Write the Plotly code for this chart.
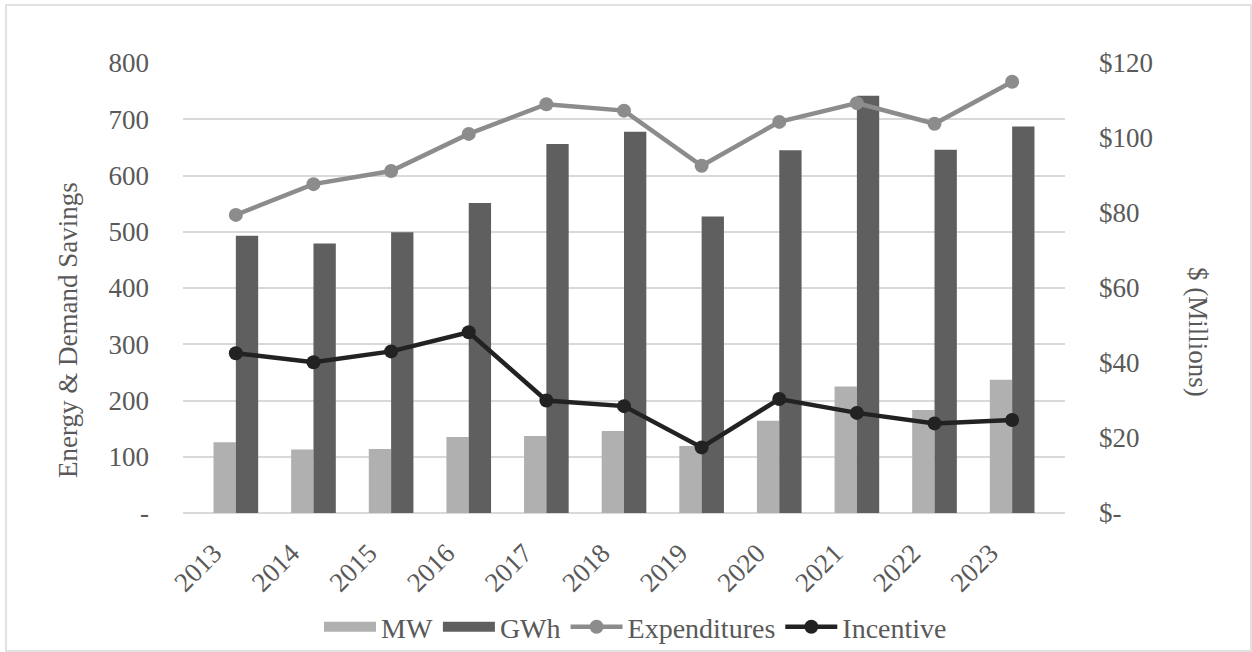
import plotly.graph_objects as go

years = ["2013", "2014", "2015", "2016", "2017", "2018", "2019", "2020", "2021", "2022", "2023"]
mw = [126, 113, 114, 135, 137, 146, 119, 164, 225, 183, 237]
gwh = [493, 479, 499, 551, 656, 678, 527, 645, 742, 646, 687]
expenditures = [79.5, 87.7, 91.2, 101.1, 109.0, 107.3, 92.6, 104.3, 109.3, 103.8, 115.0]
incentive = [42.6, 40.2, 43.1, 48.2, 30.0, 28.5, 17.5, 30.4, 26.7, 23.9, 24.8]

left_vals = [0, 100, 200, 300, 400, 500, 600, 700, 800]
left_text = ["-", "100", "200", "300", "400", "500", "600", "700", "800"]
right_vals = [0, 20, 40, 60, 80, 100, 120]
right_text = ["$-", "$20", "$40", "$60", "$80", "$100", "$120"]

FONT = "Liberation Serif"
TXT = "#595959"
FS = 27
W, H = 1252, 652
L, R, T, B = 183, 187, 63, 139
pw, ph = W - L - R, H - T - B

C_MW, C_GWH, C_EXP, C_INC = "#b0b0b0", "#5f5f5f", "#8c8c8c", "#222222"

fig = go.Figure()
fig.add_trace(go.Bar(x=years, y=mw, name="MW", showlegend=False,
                     marker=dict(color=C_MW, line=dict(width=0))))
fig.add_trace(go.Bar(x=years, y=gwh, name="GWh", showlegend=False,
                     marker=dict(color=C_GWH, line=dict(width=0))))
fig.add_trace(go.Scatter(x=years, y=expenditures, name="Expenditures", yaxis="y2", mode="lines+markers",
                         showlegend=False,
                         line=dict(color=C_EXP, width=4.5), marker=dict(size=14, color=C_EXP)))
fig.add_trace(go.Scatter(x=years, y=incentive, name="Incentive", yaxis="y2", mode="lines+markers",
                         showlegend=False,
                         line=dict(color=C_INC, width=4.5), marker=dict(size=14, color=C_INC)))

# legend-only entries (wide swatches like the original)
fig.add_trace(go.Scatter(x=[None], y=[None], name="MW", mode="lines", line=dict(color=C_MW, width=14)))
fig.add_trace(go.Scatter(x=[None], y=[None], name="GWh", mode="lines", line=dict(color=C_GWH, width=14)))
fig.add_trace(go.Scatter(x=[None], y=[None], name="Expenditures", mode="lines+markers", yaxis="y2",
                         line=dict(color=C_EXP, width=4.5), marker=dict(size=14, color=C_EXP)))
fig.add_trace(go.Scatter(x=[None], y=[None], name="Incentive", mode="lines+markers", yaxis="y2",
                         line=dict(color=C_INC, width=4.5), marker=dict(size=14, color=C_INC)))


def px_x(p):
    return (p - L) / pw


def px_y(p):
    return (H - B - p) / ph


fig.update_layout(
    width=W, height=H,
    margin=dict(l=L, r=R, t=T, b=B, autoexpand=False),
    paper_bgcolor="white", plot_bgcolor="white",
    font=dict(family=FONT, color=TXT, size=FS),
    barmode="group", bargap=0.425, bargroupgap=0,
    showlegend=True,
    legend=dict(orientation="h", x=px_x(635.5), xanchor="center", y=px_y(627), yanchor="middle",
                font=dict(family=FONT, size=28, color=TXT), itemwidth=52, traceorder="normal",
                bgcolor="rgba(0,0,0,0)", tracegroupgap=0),
    xaxis=dict(type="category", tickangle=-45, showgrid=False, showline=False, ticks="",
               tickfont=dict(family=FONT, size=FS, color=TXT), ticklabelstandoff=18,
               ticklabelshift=-22),
    yaxis=dict(range=[0, 800], tickvals=left_vals, ticktext=left_text, showgrid=True,
               gridcolor="#d9d9d9", gridwidth=1.5, zeroline=True, zerolinecolor="#d9d9d9", zerolinewidth=1.5,
               showline=False, ticks="", ticklabelstandoff=33,
               tickfont=dict(family=FONT, size=FS, color=TXT)),
    yaxis2=dict(range=[0, 120], tickvals=right_vals, ticktext=right_text, overlaying="y", side="right",
                showgrid=False, zeroline=False, showline=False, ticks="", ticklabelstandoff=33,
                tickfont=dict(family=FONT, size=FS, color=TXT)),
    shapes=[dict(type="rect", xref="paper", yref="paper",
                 x0=px_x(6), x1=px_x(1251), y0=px_y(651), y1=px_y(5),
                 line=dict(color="#d9d9d9", width=1.5), fillcolor="rgba(0,0,0,0)", layer="below")],
    annotations=[
        dict(text="Energy & Demand Savings", xref="paper", yref="paper", x=px_x(68), y=px_y(330),
             textangle=-90, showarrow=False, font=dict(family=FONT, size=FS, color=TXT),
             xanchor="center", yanchor="middle"),
        dict(text="$ (Millions)", xref="paper", yref="paper", x=px_x(1198), y=px_y(332),
             textangle=90, showarrow=False, font=dict(family=FONT, size=FS, color=TXT),
             xanchor="center", yanchor="middle"),
    ],
)

fig.write_html("out.html", config={"displayModeBar": False},
               post_script="document.body.style.margin='0px';")
